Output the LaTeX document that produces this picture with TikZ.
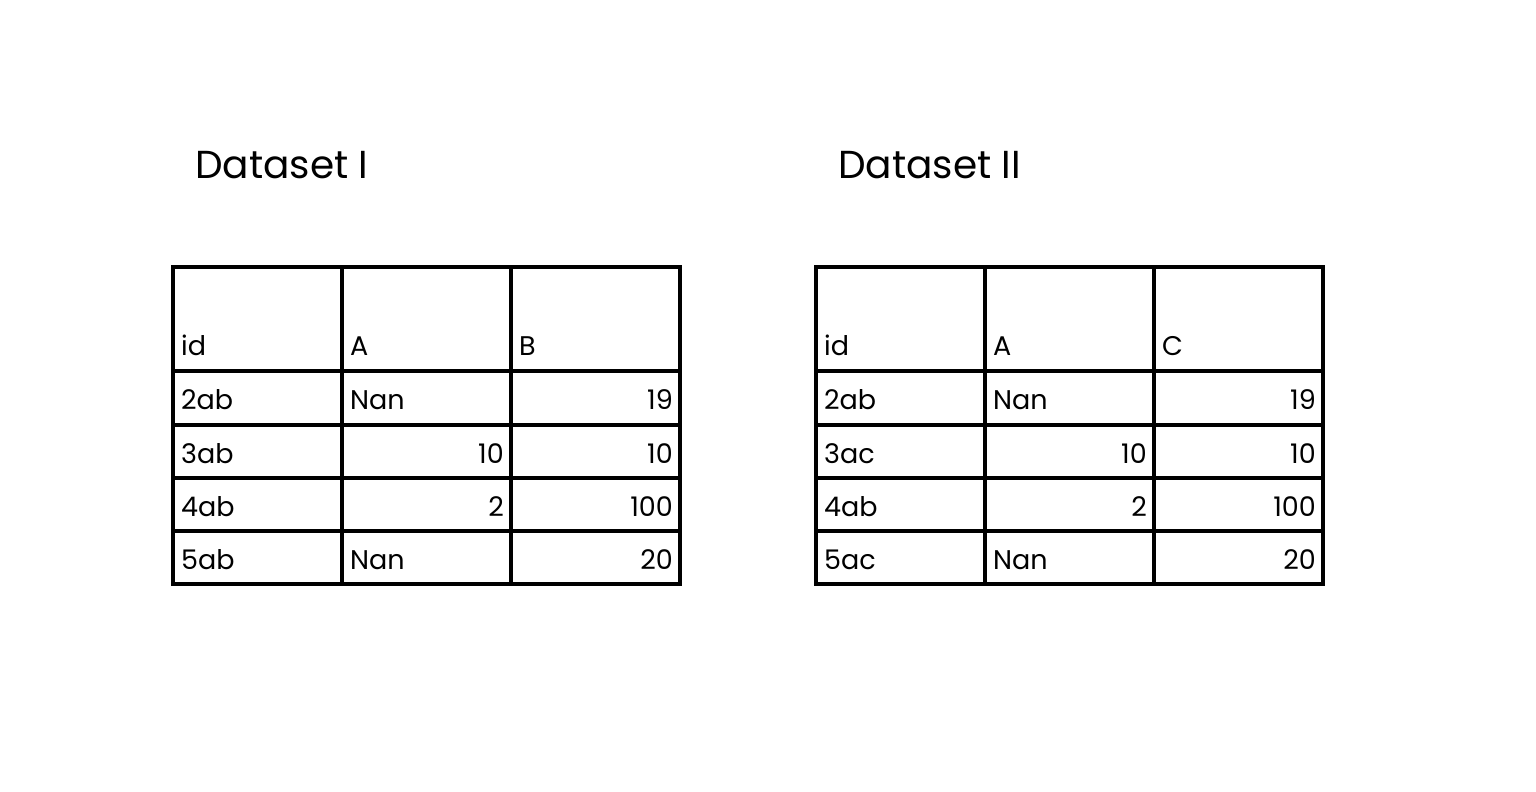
\documentclass[tikz,border=0pt]{standalone}
\usepackage{fontspec}
\setmainfont{Poppins}
\begin{document}
\begin{tikzpicture}[x=1pt,y=-1pt,
  gridline/.style={line width=4pt, line cap=rect, line join=miter},
  cellL/.style={anchor=base west, inner sep=0pt, font=\fontsize{27}{27}\selectfont},
  cellR/.style={anchor=base east, inner sep=0pt, font=\fontsize{27}{27}\selectfont},
  titletext/.style={anchor=base west, inner sep=0pt, font=\fontsize{39}{39}\selectfont}]
\useasboundingbox (0,0) rectangle (1536,792);
% ---------- Table I ----------
\begin{scope}[name prefix=t1-]
\node[titletext] (title) at (195,178) {Dataset I};
\draw[gridline] (173,267) rectangle (680,584);
\foreach \xx in {342,511} \draw[gridline] (\xx,267) -- (\xx,584);
\foreach \yy in {371,425,478,531} \draw[gridline] (173,\yy) -- (680,\yy);
\node[cellL] (h1) at (181,355) {id};
\node[cellL] (h2) at (350,355) {A};
\node[cellL] (h3) at (519,355) {B};
\node[cellL] (r1c1) at (181,409) {2ab};
\node[cellL] (r1c2) at (350,409) {Nan};
\node[cellR] (r1c3) at (673,409) {19};
\node[cellL] (r2c1) at (181,463) {3ab};
\node[cellR] (r2c2) at (504,463) {10};
\node[cellR] (r2c3) at (673,463) {10};
\node[cellL] (r3c1) at (181,516) {4ab};
\node[cellR] (r3c2) at (504,516) {2};
\node[cellR] (r3c3) at (673,516) {100};
\node[cellL] (r4c1) at (181,569) {5ab};
\node[cellL] (r4c2) at (350,569) {Nan};
\node[cellR] (r4c3) at (673,569) {20};
\end{scope}
% ---------- Table II ----------
\begin{scope}[xshift=643pt, name prefix=t2-]
\node[titletext] (title) at (195,178) {Dataset II};
\draw[gridline] (173,267) rectangle (680,584);
\foreach \xx in {342,511} \draw[gridline] (\xx,267) -- (\xx,584);
\foreach \yy in {371,425,478,531} \draw[gridline] (173,\yy) -- (680,\yy);
\node[cellL] (h1) at (181,355) {id};
\node[cellL] (h2) at (350,355) {A};
\node[cellL] (h3) at (519,355) {C};
\node[cellL] (r1c1) at (181,409) {2ab};
\node[cellL] (r1c2) at (350,409) {Nan};
\node[cellR] (r1c3) at (673,409) {19};
\node[cellL] (r2c1) at (181,463) {3ac};
\node[cellR] (r2c2) at (504,463) {10};
\node[cellR] (r2c3) at (673,463) {10};
\node[cellL] (r3c1) at (181,516) {4ab};
\node[cellR] (r3c2) at (504,516) {2};
\node[cellR] (r3c3) at (673,516) {100};
\node[cellL] (r4c1) at (181,569) {5ac};
\node[cellL] (r4c2) at (350,569) {Nan};
\node[cellR] (r4c3) at (673,569) {20};
\end{scope}
\end{tikzpicture}
\end{document}
